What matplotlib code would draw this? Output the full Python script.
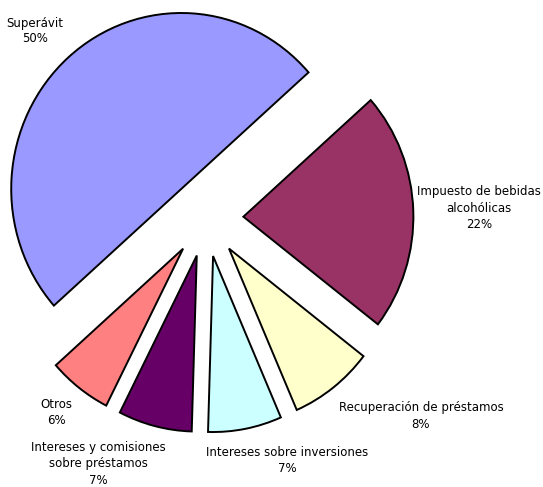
import matplotlib
matplotlib.use("Agg")
import matplotlib.pyplot as plt

# Sources of funds (percent of total)
categories = [
    "Superávit",
    "Impuesto de bebidas\nalcohólicas",
    "Recuperación de préstamos",
    "Intereses sobre inversiones",
    "Intereses y comisiones\nsobre préstamos",
    "Otros",
]
shares = [50, 22, 8, 7, 7, 6]
colors = ["#9999FF", "#993366", "#FFFFCC", "#CCFFFF", "#660066", "#FF8080"]

W, H = 543, 487
fig = plt.figure(figsize=(W / 100, H / 100), dpi=100)
fig.patch.set_facecolor("white")
ax = fig.add_axes([0, 0, 1, 1])

ax.pie(
    shares,
    colors=colors,
    startangle=221.5,
    counterclock=False,
    explode=[0.22] * len(shares),
    radius=1.0,
    wedgeprops=dict(edgecolor="black", linewidth=1.4),
)

# pie centre at pixel (206, 218); slightly taller than wide
cx, cy, rx, ry = 206, 218, 170, 176
ax.set_aspect("auto")
ax.set_xlim(-cx / rx, (W - cx) / rx)
ax.set_ylim(-(H - cy) / ry, cy / ry)
ax.axis("off")

# label anchor points in pixels (x, y from top)
label_pos = [(35, 31), (479, 208), (421, 416), (287, 461), (98, 464), (56, 413)]
for name, val, (px, py) in zip(categories, shares, label_pos):
    fig.text(px / W, 1 - py / H, f"{name}\n{val}%", ha="center", va="center",
             fontsize=8.5, family="DejaVu Sans", color="black",
             linespacing=1.3)

fig.savefig("out.png", dpi=100, facecolor="white")
